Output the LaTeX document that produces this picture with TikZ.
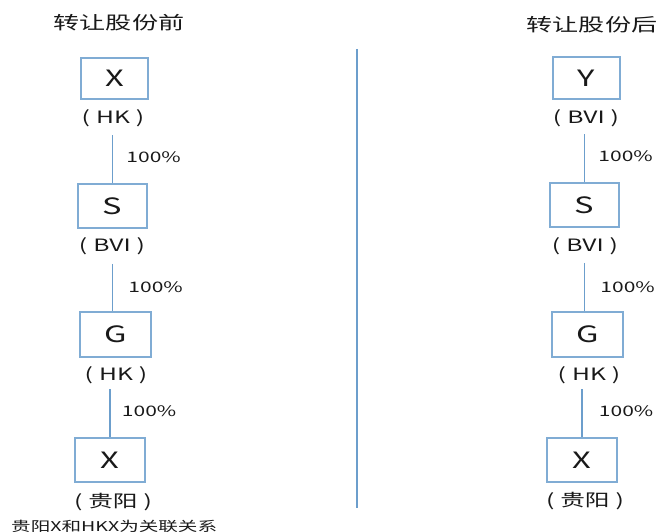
\documentclass[tikz,border=0pt]{standalone}
\usepackage{fontspec}
\setmainfont[FakeStretch=1.45]{Noto Sans CJK SC}
\definecolor{boxc}{RGB}{128,172,212}
\definecolor{linec}{RGB}{108,158,204}
\definecolor{txt}{RGB}{25,25,25}
\newcommand{\pp}[1]{(\hspace{6pt}#1\hspace{6pt})}
\begin{document}
\begin{tikzpicture}[x=1pt,y=-1pt,
  ent/.style={draw=boxc,line width=1.7pt,inner sep=0pt,text=txt,font=\fontsize{22.5}{22}\selectfont},
  loc/.style={inner sep=0pt,text=txt,font=\fontsize{17}{17}\selectfont},
  pct/.style={inner sep=0pt,anchor=west,text=txt,font=\fontsize{14.5}{15}\selectfont},
  ttl/.style={inner sep=0pt,text=txt,font=\fontsize{18}{18}\selectfont},
  conn/.style={draw=linec,line width=1.9pt}]
\useasboundingbox (0,0) rectangle (659,532);
% titles
\node[ttl] (t1) at (119,23) {转让股份前};
\node[ttl] (t2) at (592,25) {转让股份后};
% divider
\coordinate (d1) at (357,49);
\coordinate (d2) at (357,508);
\draw[draw=linec,line width=1.6pt] (d1) -- (d2);
% left column
\node[ent,minimum width=67pt,minimum height=41pt] (a1) at (114.5,78.5) {X};
\node[loc] (la1) at (113,118) {\pp{HK}};
\node[ent,minimum width=69pt,minimum height=44pt] (a2) at (112.5,206) {S};
\node[loc] (la2) at (112,246) {\pp{BVI}};
\node[ent,minimum width=71pt,minimum height=45pt] (a3) at (115.5,334.5) {G};
\node[loc] (la3) at (116,375) {\pp{HK}};
\node[ent,minimum width=70pt,minimum height=44pt] (a4) at (110,460) {X};
\node[loc] (la4) at (113,502) {\pp{贵阳}};
\node[inner sep=0pt,anchor=west,text=txt,font=\fontsize{13.5}{14}\selectfont] (note) at (11,526) {贵阳X和HKX为关联关系};
\draw[conn] ([yshift=48pt]a2.north) -- (a2.north) node[pct,pos=0.45,xshift=13pt] {100\%};
\draw[conn] ([yshift=-35pt]a2.south) -- (a2.south |- a3.north) node[pct,pos=0.5,xshift=15pt] {100\%};
\draw[conn] ([yshift=48pt]a4.north) -- (a4.north) node[pct,pos=0.45,xshift=11pt] {100\%};
% right column
\node[ent,minimum width=67pt,minimum height=42pt] (b1) at (586.5,78) {Y};
\node[loc] (lb1) at (586,118) {\pp{BVI}};
\node[ent,minimum width=69pt,minimum height=44pt] (b2) at (584.5,205) {S};
\node[loc] (lb2) at (585,246) {\pp{BVI}};
\node[ent,minimum width=71pt,minimum height=45pt] (b3) at (587.5,334.5) {G};
\node[loc] (lb3) at (589,375) {\pp{HK}};
\node[ent,minimum width=70pt,minimum height=44pt] (b4) at (582,460) {X};
\node[loc] (lb4) at (585,501) {\pp{贵阳}};
\draw[conn] ([yshift=48pt]b2.north) -- (b2.north) node[pct,pos=0.45,xshift=13pt] {100\%};
\draw[conn] ([yshift=-35pt]b2.south) -- (b2.south |- b3.north) node[pct,pos=0.5,xshift=15pt] {100\%};
\draw[conn] ([yshift=48pt]b4.north) -- (b4.north) node[pct,pos=0.45,xshift=16pt] {100\%};
\end{tikzpicture}
\end{document}
